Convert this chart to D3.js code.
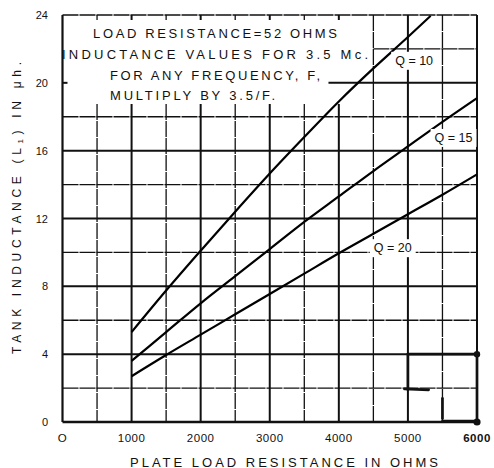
<!DOCTYPE html>
<html><head><meta charset="utf-8">
<script src="https://cdn.jsdelivr.net/npm/d3@7"></script>
<style>
html,body{margin:0;padding:0;background:#fff;}
text{font-family:"Liberation Sans","DejaVu Sans",sans-serif;fill:#111;}
</style></head>
<body><svg id="c" width="494" height="468"></svg>
<script>
// ---- data ----
const xTicks = [0,1000,2000,3000,4000,5000,6000];
const yTicks = [0,4,8,12,16,20,24];
const xGrid = [500,1000,1500,2000,2500,3000,3500,4000,4500,5000,5500,6000];
const yGrid = [2,4,6,8,10,12,14,16,18,20,22];
const q10 = [[1000,5.3],[1500,7.75],[2000,10.1],[2500,12.4],[3000,14.65],[3500,16.8],[4000,18.9],[4500,20.85],[5000,22.7],[5330,23.95]];
const q15 = [[1000,3.6],[1500,5.3],[2000,7.0],[2500,8.6],[3000,10.2],[3500,11.8],[4000,13.3],[4500,14.8],[5000,16.25],[5500,17.7],[6000,19.1]];
const q20 = [[1000,2.7],[1500,3.95],[2000,5.15],[2500,6.35],[3000,7.55],[3500,8.75],[4000,9.95],[4500,11.1],[5000,12.25],[5500,13.4],[6000,14.6]];
const seriesNames = ["Q = 10","Q = 15","Q = 20"];
const labelPos = [[5090,21.3],[5660,16.75],[4780,10.25]];
const noteLines = ["LOAD  RESISTANCE=52 OHMS","INDUCTANCE  VALUES  FOR  3.5 Mc.","FOR  ANY  FREQUENCY,  F,","MULTIPLY  BY  3.5/F."];
const penMarks = [[[5000,4],[6000,4]],[[5000,4],[5000,1.9]],[[4950,1.95],[5300,1.9]],[[5500,1.4],[5500,0.2]],[[5500,0.05],[6000,0.05]],[[6000,0],[6000,4]]];

const svg = d3.select("#c");
const x = d3.scaleLinear().domain([0,6000]).range([62.5,477]);
const y = d3.scaleLinear().domain([0,24]).range([422,15]);
const L = 62.5, R = 477, T = 15, B = 422;

// grid
const g = svg.append("g");
xGrid.forEach(v=>{
  const major = v%1000===0;
  const top = v<=4000 ? y(18.75) : T;
  g.append("line").attr("x1",x(v)).attr("x2",x(v)).attr("y1",top).attr("y2",B)
   .attr("stroke","#111").attr("stroke-width",major?2:1.3)
   .attr("stroke-dasharray",major?null:"16,1");
  if (v<=4000) g.append("line").attr("x1",x(v)).attr("x2",x(v)).attr("y1",T).attr("y2",T+5)
   .attr("stroke","#111").attr("stroke-width",major?2:1.3);
});
yGrid.forEach(v=>{
  const major = v%4===0;
  let x1 = L;
  if (v===20) x1 = x(3850);
  if (v===22) x1 = x(4500);
  g.append("line").attr("x1",x1).attr("x2",R).attr("y1",y(v)).attr("y2",y(v))
   .attr("stroke","#111").attr("stroke-width",major?2:1.3)
   .attr("stroke-dasharray",major?null:"16,1");
});
g.append("line").attr("x1",L).attr("x2",L+5).attr("y1",y(20)).attr("y2",y(20)).attr("stroke","#111").attr("stroke-width",2);

// frame
svg.append("line").attr("x1",L).attr("x2",L).attr("y1",T).attr("y2",B).attr("stroke","#111").attr("stroke-width",2.2);
svg.append("line").attr("x1",L).attr("x2",R).attr("y1",B).attr("y2",B).attr("stroke","#111").attr("stroke-width",2.4);
svg.append("line").attr("x1",L).attr("x2",R).attr("y1",T).attr("y2",T).attr("stroke","#111").attr("stroke-width",1.6).attr("stroke-dasharray","16,1");
svg.append("line").attr("x1",R).attr("x2",R).attr("y1",T).attr("y2",B).attr("stroke","#111").attr("stroke-width",1.8);

// pen marks
penMarks.forEach(s=>{
  svg.append("line").attr("x1",x(s[0][0])).attr("y1",y(s[0][1])).attr("x2",x(s[1][0])).attr("y2",y(s[1][1]))
   .attr("stroke","#111").attr("stroke-width",2.7).attr("stroke-linecap","round");
});
svg.append("circle").attr("cx",x(6000)).attr("cy",y(4)).attr("r",3.2).attr("fill","#111");
svg.append("circle").attr("cx",x(6000)).attr("cy",y(0)).attr("r",3.6).attr("fill","#111");

// curves
const line = d3.line().x(d=>x(d[0])).y(d=>y(d[1])).curve(d3.curveMonotoneX);
[q10,q15,q20].forEach(s=>{
  svg.append("path").attr("d",line(s)).attr("fill","none").attr("stroke","#000").attr("stroke-width",2.2);
});

// curve labels with white background
seriesNames.forEach((n,i)=>{
  const px = x(labelPos[i][0]), py = y(labelPos[i][1]);
  const t = svg.append("text").attr("x",px).attr("y",py).attr("text-anchor","middle")
    .attr("dominant-baseline","central").attr("font-size",12.5).text(n);
  const bb = t.node().getBBox();
  svg.insert("rect", () => t.node()).attr("x",bb.x-4).attr("y",bb.y-2).attr("width",bb.width+8).attr("height",bb.height+4).attr("fill","#fff");
});

// note text
const noteX = [93,62,110,110], noteW = [244,306,210,165], noteY = [33,54,75,95];
noteLines.forEach((s,i)=>{
  svg.append("text").attr("x",noteX[i]).attr("y",noteY[i]).attr("dominant-baseline","central")
    .attr("font-size",13).attr("textLength",noteW[i]).attr("lengthAdjust","spacing").text(s);
});

// axes tick labels
yTicks.forEach(v=>{
  svg.append("text").attr("x",48).attr("y",y(v)).attr("text-anchor","end").attr("dominant-baseline","central")
   .attr("font-size",11).text(v);
});
xTicks.forEach(v=>{
  svg.append("text").attr("x",x(v)).attr("y",438).attr("text-anchor","middle").attr("dominant-baseline","central")
   .attr("font-size",11.5).attr("letter-spacing",0.5).attr("font-weight",v===6000?"bold":null).text(v===0?"O":v);
});

// axis titles
svg.append("text").attr("x",284).attr("y",462).attr("text-anchor","middle").attr("dominant-baseline","central")
  .attr("font-size",13).attr("textLength",308).attr("lengthAdjust","spacing").text("PLATE LOAD RESISTANCE IN OHMS");
const yt = svg.append("text").attr("transform","translate(17,208) rotate(-90)").attr("text-anchor","middle")
  .attr("dominant-baseline","central").attr("font-size",12).attr("textLength",292).attr("lengthAdjust","spacing");
yt.append("tspan").text("TANK INDUCTANCE (L");
yt.append("tspan").attr("font-size",8).attr("dy",3).text("1");
yt.append("tspan").attr("dy",-3).text(") IN μh.");
</script></body></html>
